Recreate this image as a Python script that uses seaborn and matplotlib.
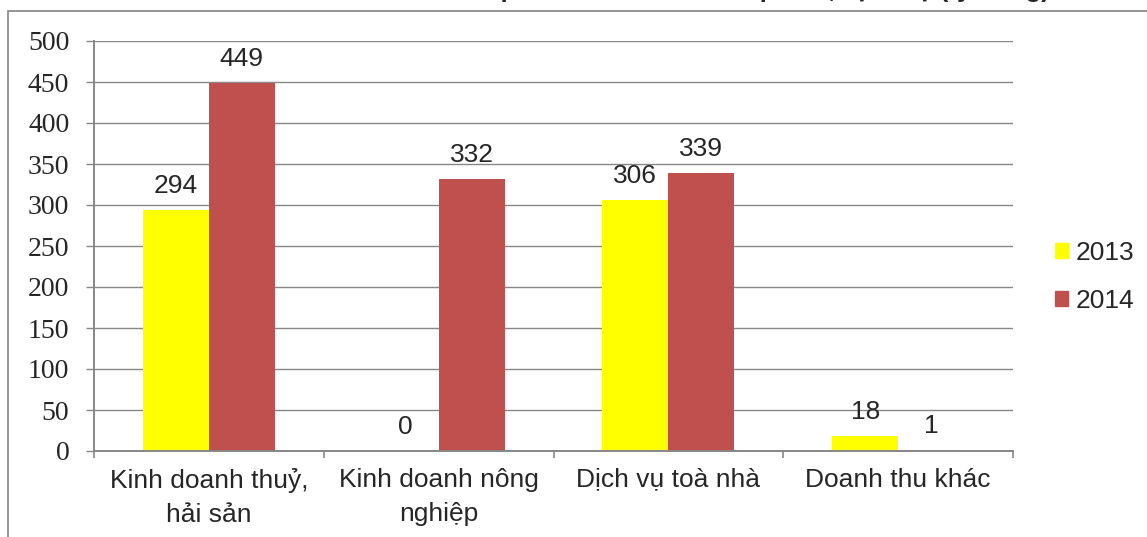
import matplotlib
matplotlib.use("Agg")
import matplotlib.pyplot as plt
import matplotlib.patches as mpatches
import seaborn as sns
import pandas as pd

# --- data ---
CATEGORIES = ["Kinh doanh thuỷ,\nhải sản", "Kinh doanh nông\nnghiệp",
              "Dịch vụ toà nhà", "Doanh thu khác"]
YEARS = ["2013", "2014"]
VALUES_2013 = [294, 0, 306, 18]
VALUES_2014 = [449, 332, 339, 1]
COLORS = ["#FFFF00", "#C0504D"]
Y_TICKS = [0, 50, 100, 150, 200, 250, 300, 350, 400, 450, 500]
TITLE = "Doanh thu phân theo nhóm sản phẩm, dịch vụ (tỷ đồng)"

GRID = "#878787"
W, H = 1147, 537


def px(x, y):
    # pixel position -> figure fraction
    return x / W, 1 - y / H


sns.set_style("white")
plt.rcParams["font.family"] = ["Liberation Sans", "DejaVu Sans"]

df = pd.DataFrame({
    "cat": CATEGORIES * 2,
    "year": [YEARS[0]] * 4 + [YEARS[1]] * 4,
    "value": VALUES_2013 + VALUES_2014,
})

fig = plt.figure(figsize=(W / 100, H / 100), dpi=100)
ax = fig.add_axes([94 / W, (H - 451) / H, (1013 - 94) / W, (451 - 41) / H])
ax.set_axisbelow(True)

sns.barplot(data=df, x="cat", y="value", hue="year", palette=COLORS,
            width=0.574, saturation=1, linewidth=0, legend=False, ax=ax)

for cont in ax.containers:
    ax.bar_label(cont, fmt="%g", padding=8.5, fontsize=19)

ax.set_ylim(0, 500)
ax.set_xlim(-0.5, len(CATEGORIES) - 0.5)
ax.set_yticks(Y_TICKS)
ax.set_yticklabels([str(v) for v in Y_TICKS], family=["Liberation Serif"], fontsize=20)
ax.set_xticks(range(len(CATEGORIES)))
ax.set_xticklabels(CATEGORIES, fontsize=19, linespacing=1.55)
ax.set_xticks([i - 0.5 for i in range(len(CATEGORIES) + 1)], minor=True)
ax.set_xlabel("")
ax.set_ylabel("")

ax.yaxis.grid(True, color=GRID, linewidth=1.0)
ax.tick_params(axis="y", length=5.8, width=1, color=GRID, pad=12, direction="out", left=True)
ax.tick_params(axis="x", which="major", length=0, pad=12)
ax.tick_params(axis="x", which="minor", length=5, width=1.2, color=GRID, direction="out", bottom=True)
for s in ["top", "right"]:
    ax.spines[s].set_visible(False)
for s in ["left", "bottom"]:
    ax.spines[s].set_color(GRID)
    ax.spines[s].set_linewidth(1.4)

handles = [mpatches.Patch(color=c, label=y) for c, y in zip(COLORS, YEARS)]
fig.legend(handles=handles, loc="center left", bbox_to_anchor=px(1055, 277),
           frameon=False, fontsize=19, borderpad=0, borderaxespad=0,
           handlelength=0.5, handleheight=0.5, handletextpad=0.3, labelspacing=0.9)

# outer chart frame, cut off on the right and bottom like the screenshot
fig.patches.append(mpatches.Rectangle(px(8, 600), 1.2, (600 - 11) / H, transform=fig.transFigure,
                                      fill=False, edgecolor="#8c8c8c", linewidth=1.3))

# title, mostly above the visible area (only descenders show in the screenshot)
fig.text(*px(1050, -3), TITLE, ha="right", va="baseline", fontsize=18.5, fontweight="bold")

fig.savefig("out.png", dpi=100)
